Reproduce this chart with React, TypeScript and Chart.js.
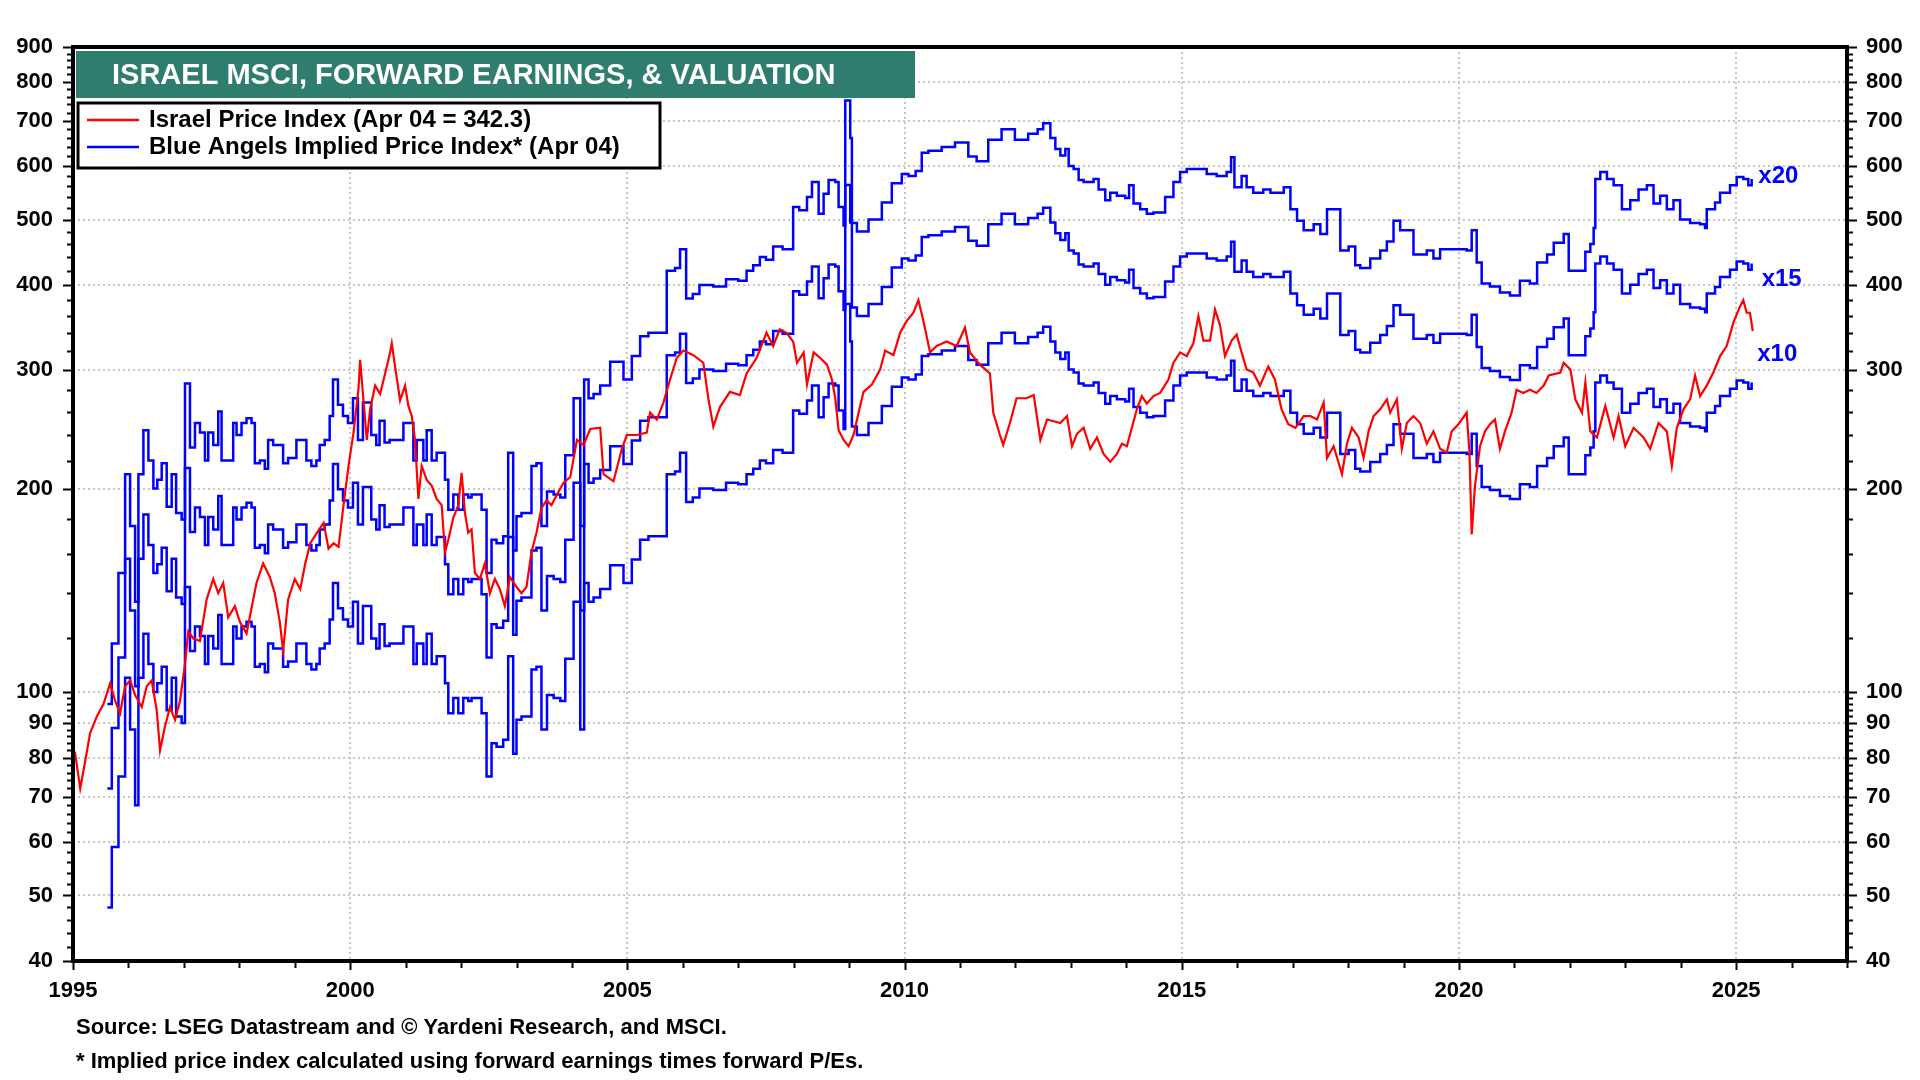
import React, { useEffect, useRef } from "react";
import { Chart, registerables } from "chart.js";

Chart.register(...registerables);

const FONT = '"Liberation Sans", Arial, Helvetica, sans-serif';

// Israel MSCI price index (decimal year, index level)
const priceYears = [
  1995.0, 1995.04, 1995.13, 1995.22, 1995.31, 1995.43, 1995.55, 1995.67, 1995.76, 1995.85, 1995.94,
  1996.03, 1996.12, 1996.24, 1996.33, 1996.42, 1996.51, 1996.57, 1996.66, 1996.75, 1996.84, 1996.93,
  1997.02, 1997.08, 1997.17, 1997.29, 1997.41, 1997.53, 1997.62, 1997.71, 1997.8, 1997.92,
  1998.01, 1998.13, 1998.22, 1998.31, 1998.43, 1998.55, 1998.64, 1998.73, 1998.79, 1998.88,
  1999.0, 1999.1, 1999.19, 1999.28, 1999.4, 1999.52, 1999.61, 1999.7, 1999.79, 1999.88, 1999.97,
  2000.06, 2000.15, 2000.18, 2000.24, 2000.3, 2000.36, 2000.45, 2000.54, 2000.63, 2000.72, 2000.75, 2000.81, 2000.9, 2000.99,
  2001.05, 2001.11, 2001.17, 2001.23, 2001.29, 2001.38, 2001.47, 2001.56, 2001.65, 2001.71, 2001.77, 2001.86, 2001.95,
  2002.01, 2002.07, 2002.13, 2002.19, 2002.25, 2002.34, 2002.43, 2002.52, 2002.61, 2002.7, 2002.79, 2002.88,
  2003.0, 2003.09, 2003.18, 2003.27, 2003.36, 2003.45, 2003.54, 2003.63, 2003.73, 2003.85, 2003.97,
  2004.09, 2004.21, 2004.33, 2004.51, 2004.57, 2004.75, 2004.9, 2004.99,
  2005.17, 2005.35, 2005.41, 2005.53, 2005.65, 2005.77, 2005.89, 2006.01,
  2006.19, 2006.37, 2006.46, 2006.55, 2006.67, 2006.85, 2007.03,
  2007.15, 2007.33, 2007.51, 2007.63, 2007.75, 2007.87, 2007.99,
  2008.06, 2008.18, 2008.24, 2008.36, 2008.48, 2008.6, 2008.69, 2008.75, 2008.81, 2008.9, 2008.99,
  2009.08, 2009.17, 2009.26, 2009.41, 2009.56, 2009.65, 2009.8, 2009.92,
  2010.04, 2010.16, 2010.25, 2010.34, 2010.46, 2010.58, 2010.76, 2010.94,
  2011.09, 2011.18, 2011.36, 2011.54, 2011.6, 2011.72, 2011.78, 2011.9,
  2012.02, 2012.2, 2012.33, 2012.45, 2012.57, 2012.81, 2012.93,
  2013.02, 2013.11, 2013.23, 2013.35, 2013.47, 2013.59, 2013.71, 2013.83, 2013.92,
  2014.01, 2014.1, 2014.19, 2014.28, 2014.37, 2014.49, 2014.61, 2014.76, 2014.85, 2014.97,
  2015.09, 2015.21, 2015.3, 2015.39, 2015.51, 2015.6, 2015.69, 2015.78, 2015.9, 2015.99,
  2016.08, 2016.17, 2016.29, 2016.41, 2016.56, 2016.68, 2016.8, 2016.92,
  2017.05, 2017.2, 2017.32, 2017.44, 2017.56, 2017.62, 2017.74, 2017.89, 2017.98,
  2018.07, 2018.19, 2018.28, 2018.37, 2018.46, 2018.58, 2018.7, 2018.76, 2018.88, 2018.97,
  2019.06, 2019.18, 2019.3, 2019.42, 2019.54, 2019.66, 2019.78, 2019.87, 2019.99,
  2020.14, 2020.19, 2020.23, 2020.29, 2020.38, 2020.47, 2020.56, 2020.65, 2020.74, 2020.83, 2020.95,
  2021.04, 2021.16, 2021.28, 2021.4, 2021.53, 2021.62, 2021.83, 2021.89,
  2022.01, 2022.1, 2022.22, 2022.28, 2022.37, 2022.49, 2022.64, 2022.79, 2022.88,
  2023.0, 2023.15, 2023.33, 2023.45, 2023.6, 2023.75, 2023.84, 2023.93,
  2024.05, 2024.17, 2024.26, 2024.35, 2024.47, 2024.59, 2024.71, 2024.83, 2024.95,
  2025.07, 2025.13, 2025.19, 2025.25, 2025.3,
];
const priceIndex = [
  80, 81, 72, 79, 87, 92, 96, 103, 97, 93, 102,
  104, 99, 95, 102, 104, 94, 82, 89, 95, 91, 97,
  110, 123, 120, 119, 137, 147, 140, 145, 129, 134,
  127, 122, 133, 145, 155, 148, 140, 127, 115, 137,
  147, 142, 155, 166, 172, 178, 163, 166, 164, 189, 216,
  242, 281, 310, 270, 236, 262, 284, 276, 296, 318, 328, 303, 270, 284,
  265, 256, 236, 193, 216, 206, 202, 193, 189, 161, 168, 181, 189,
  211, 184, 172, 174, 150, 147, 155, 140, 147, 142, 134, 148,
  143, 140, 143, 161, 172, 187, 192, 189, 196, 204, 208,
  236, 232, 245, 246, 210, 205, 229, 240,
  240, 242, 259, 253, 268, 290, 312, 320,
  315, 307, 272, 247, 264, 278, 275,
  296, 312, 340, 325, 344, 340, 330,
  307, 318, 285, 318, 312, 305, 290, 272, 244, 236, 231,
  240, 259, 278, 285, 300, 320, 315, 340,
  354, 364, 380, 354, 318, 325, 330, 325,
  346, 318, 305, 296, 259, 240, 232, 250,
  272, 272, 275, 236, 253, 250, 256,
  231, 241, 246, 229, 238, 225, 219, 225, 233,
  231, 246, 262, 274, 267, 274, 277, 290, 307, 318,
  314, 328, 360, 331, 331, 368, 349, 314, 331, 338,
  318, 300, 297, 284, 303, 290, 262, 249,
  246, 256, 256, 253, 268, 222, 231, 210, 233,
  246, 238, 222, 243, 256, 262, 271, 259, 271, 229,
  250, 256, 250, 233, 243, 229, 226, 243, 249,
  259, 226, 171, 202, 231, 243, 249, 253, 229, 243, 259,
  280, 277, 280, 277, 284, 294, 297, 307,
  300, 271, 259, 287, 243, 238, 265, 238, 256,
  231, 246, 238, 229, 250, 243, 216, 246,
  262, 271, 294, 274, 284, 297, 314, 325, 352,
  372, 380, 364, 364, 342,
];

// Forward earnings behind the implied price index (index points)
const earningsYears = [
  1995.62, 1995.7, 1995.82, 1995.94, 1996.03, 1996.12, 1996.18, 1996.27, 1996.36, 1996.45, 1996.52,
  1996.6, 1996.69, 1996.78, 1996.86, 1996.96, 1997.02, 1997.11, 1997.2, 1997.29, 1997.38, 1997.44,
  1997.53, 1997.62, 1997.68, 1997.89, 1997.95, 1998.04, 1998.13, 1998.22, 1998.28, 1998.37, 1998.46,
  1998.52, 1998.61, 1998.79, 1998.88, 1999.03, 1999.21, 1999.3, 1999.39, 1999.45, 1999.54, 1999.63,
  1999.69, 1999.78, 1999.87, 1999.96, 2000.05, 2000.14, 2000.23, 2000.38, 2000.47, 2000.53, 2000.62,
  2000.71, 2000.96, 2001.14, 2001.2, 2001.32, 2001.38, 2001.47, 2001.56, 2001.71, 2001.77, 2001.86,
  2001.95, 2002.04, 2002.13, 2002.19, 2002.37, 2002.46, 2002.55, 2002.64, 2002.76, 2002.85, 2002.94,
  2003.0, 2003.09, 2003.27, 2003.36, 2003.45, 2003.55, 2003.67, 2003.79, 2003.88,
  2004.03, 2004.15, 2004.22, 2004.3, 2004.39, 2004.51, 2004.69, 2004.93, 2005.08, 2005.23, 2005.38,
  2005.71, 2005.86, 2005.95, 2006.06, 2006.18, 2006.3, 2006.55, 2006.78, 2007.0, 2007.15, 2007.27,
  2007.39, 2007.5, 2007.63, 2007.8, 2007.99, 2008.1, 2008.24, 2008.33, 2008.45, 2008.54, 2008.63,
  2008.75, 2008.81, 2008.9, 2008.93, 2009.02, 2009.05, 2009.14, 2009.35, 2009.59, 2009.77, 2009.95,
  2010.07, 2010.2, 2010.31, 2010.43, 2010.67, 2010.91, 2011.15, 2011.3, 2011.51, 2011.75, 2011.99,
  2012.23, 2012.4, 2012.5, 2012.63, 2012.72, 2012.81, 2012.9, 2012.96, 2013.05, 2013.14, 2013.23,
  2013.41, 2013.5, 2013.62, 2013.71, 2013.83, 2013.98, 2014.05, 2014.13, 2014.25, 2014.37, 2014.49,
  2014.61, 2014.7, 2014.85, 2014.97, 2015.09, 2015.27, 2015.45, 2015.63, 2015.81, 2015.89, 2015.95,
  2016.08, 2016.17, 2016.29, 2016.47, 2016.6, 2016.72, 2016.84, 2016.96, 2017.08, 2017.2, 2017.38,
  2017.5, 2017.62, 2017.74, 2017.86, 2018.01, 2018.13, 2018.22, 2018.4, 2018.58, 2018.7, 2018.82,
  2018.94, 2019.18, 2019.42, 2019.54, 2019.66, 2019.84, 2020.14, 2020.23, 2020.32, 2020.41, 2020.56,
  2020.74, 2020.92, 2021.1, 2021.28, 2021.41, 2021.59, 2021.71, 2021.89, 2021.98, 2022.19, 2022.28,
  2022.37, 2022.43, 2022.46, 2022.55, 2022.67, 2022.79, 2022.94, 2023.09, 2023.24, 2023.39, 2023.51,
  2023.63, 2023.75, 2023.87, 2023.99, 2024.17, 2024.35, 2024.44, 2024.47, 2024.62, 2024.71, 2024.89,
  2025.01, 2025.13, 2025.22, 2025.28,
];
const forwardEarnings = [
  4.8, 5.9, 7.5, 10.5, 8.8, 6.8, 10.5, 12.2, 11.0, 10.0, 10.3,
  10.9, 9.4, 10.5, 9.2, 9.0, 14.3, 11.5, 12.5, 12.1, 11.0, 12.1,
  11.6, 13.0, 11.0, 12.5, 12.0, 12.5, 12.7, 12.5, 10.9, 11.0, 10.7,
  11.8, 11.6, 10.9, 11.1, 11.8, 11.0, 10.8, 11.0, 11.6, 11.8, 12.8,
  14.5, 13.3, 12.8, 12.5, 13.6, 11.8, 13.4, 12.0, 11.6, 12.6, 11.7,
  11.8, 12.5, 11.0, 11.8, 11.0, 12.2, 11.0, 11.3, 10.3, 9.3, 9.8,
  9.3, 9.8, 9.7, 9.8, 9.3, 7.5, 8.4, 8.3, 8.5, 11.3, 8.1,
  9.1, 9.2, 10.8, 10.9, 8.8, 9.9, 9.8, 9.7, 11.2,
  13.6, 8.8, 14.5, 13.6, 13.8, 14.2, 15.4, 14.5, 15.7, 16.8, 17.0,
  21.0, 21.2, 22.6, 19.1, 19.4, 20.0, 19.9, 20.4, 20.3, 21.0, 21.4,
  22.0, 21.8, 22.8, 22.6, 26.1, 25.8, 27.0, 28.4, 25.5, 27.3, 28.6,
  28.4, 26.1, 24.5, 37.5, 33.0, 24.7, 24.0, 25.0, 26.5, 28.3, 29.2,
  29.0, 29.5, 31.4, 31.6, 32.0, 32.5, 31.0, 30.5, 32.8, 34.0, 32.8,
  33.5, 34.0, 34.7, 33.0, 31.8, 31.1, 31.8, 30.0, 29.7, 28.6, 28.4,
  28.7, 27.7, 26.7, 27.4, 27.1, 26.9, 28.1, 26.4, 25.9, 25.5, 25.6,
  25.6, 27.0, 28.4, 29.4, 29.7, 29.7, 29.2, 29.0, 29.4, 30.9, 27.9,
  29.0, 27.9, 27.4, 27.7, 27.4, 27.4, 27.9, 25.9, 24.9, 24.1, 24.6,
  23.8, 25.9, 25.9, 22.5, 22.8, 21.4, 21.2, 21.9, 22.5, 23.2, 24.9,
  24.1, 22.2, 22.5, 21.9, 22.6, 22.6, 22.5, 24.1, 21.6, 20.1, 19.9,
  19.5, 19.3, 20.3, 20.1, 21.6, 22.2, 23.1, 23.8, 21.0, 21.0, 22.4,
  23.0, 24.3, 28.7, 29.4, 28.7, 28.1, 25.9, 26.7, 27.7, 28.1, 26.4,
  27.1, 25.9, 26.7, 25.0, 24.7, 24.6, 24.3, 25.9, 26.5, 27.4, 28.1,
  28.9, 28.7, 28.1, 28.7,
];
const peMultiples = [10, 15, 20];
const multipleLabels = ["x10", "x15", "x20"];

// axis ticks
const yTicks = [40, 50, 60, 70, 80, 90, 100, 200, 300, 400, 500, 600, 700, 800, 900];
const yMinorTicks = [
  42, 44, 46, 48, 52, 54, 56, 58, 62, 64, 66, 68, 72, 74, 76, 78, 82, 84, 86, 88, 92, 94, 96, 98,
  120, 140, 160, 180, 220, 240, 260, 280, 320, 340, 360, 380, 420, 440, 460, 480,
  520, 540, 560, 580, 620, 640, 660, 680, 720, 740, 760, 780, 820, 840, 860, 880,
];
const xTicks = [1995, 2000, 2005, 2010, 2015, 2020, 2025];

const titleText = "ISRAEL MSCI, FORWARD EARNINGS, & VALUATION";
const legendItems = [
  { text: "Israel Price Index (Apr 04 = 342.3)", color: "#ff0000" },
  { text: "Blue Angels Implied Price Index* (Apr 04)", color: "#0000ff" },
];
const footnotes = [
  "Source: LSEG Datastream and \u00a9 Yardeni Research, and MSCI.",
  "* Implied price index calculated using forward earnings times forward P/Es.",
];

// where the multiple labels sit (year, index level)
const multipleLabelSpots = [
  { x: 2025.38, y: 316 },
  { x: 2025.46, y: 408 },
  { x: 2025.4, y: 580 },
];

const decorPlugin = {
  id: "decor",
  beforeDatasetsDraw(chart: any) {
    const { ctx, chartArea: a, scales } = chart;
    ctx.save();
    ctx.strokeStyle = "#c6c6c6";
    ctx.lineWidth = 2;
    ctx.setLineDash([2, 3]);
    yTicks.forEach((v) => {
      const py = Math.round(scales.y.getPixelForValue(v));
      ctx.beginPath();
      ctx.moveTo(a.left, py);
      ctx.lineTo(a.right, py);
      ctx.stroke();
    });
    xTicks.forEach((v) => {
      if (v <= scales.x.min) return;
      const px = Math.round(scales.x.getPixelForValue(v));
      ctx.beginPath();
      ctx.moveTo(px, a.top);
      ctx.lineTo(px, a.bottom);
      ctx.stroke();
    });
    ctx.restore();
  },
  afterDraw(chart: any) {
    const { ctx, chartArea: a, scales } = chart;
    ctx.save();

    // frame
    ctx.strokeStyle = "#000";
    ctx.lineWidth = 4;
    ctx.strokeRect(a.left, a.top, a.right - a.left, a.bottom - a.top);

    // y ticks on both sides
    ctx.lineWidth = 2;
    const yTick = (v: number, len: number) => {
      const py = Math.round(scales.y.getPixelForValue(v)) + 0.5;
      ctx.beginPath();
      ctx.moveTo(a.left - len, py);
      ctx.lineTo(a.left, py);
      ctx.moveTo(a.right, py);
      ctx.lineTo(a.right + len, py);
      ctx.stroke();
    };
    yTicks.forEach((v) => yTick(v, 10));
    yMinorTicks.forEach((v) => yTick(v, 6));

    // x ticks every year
    for (let yr = Math.ceil(scales.x.min); yr <= scales.x.max; yr++) {
      const px = Math.round(scales.x.getPixelForValue(yr)) + 0.5;
      ctx.beginPath();
      ctx.moveTo(px, a.bottom);
      ctx.lineTo(px, a.bottom + (yr % 5 === 0 ? 9 : 7));
      ctx.stroke();
    }

    // title box
    ctx.fillStyle = "#2e7d6e";
    ctx.fillRect(a.left + 3, a.top + 4, 839, 47);
    ctx.fillStyle = "#ffffff";
    ctx.font = `bold 29px ${FONT}`;
    ctx.textBaseline = "middle";
    ctx.textAlign = "left";
    ctx.fillText(titleText, a.left + 39, a.top + 29);

    // legend box
    const lx = a.left + 5;
    const ly = a.top + 56;
    ctx.fillStyle = "#ffffff";
    ctx.fillRect(lx, ly, 582, 65);
    ctx.strokeStyle = "#000";
    ctx.lineWidth = 3;
    ctx.strokeRect(lx, ly, 582, 65);
    ctx.font = `bold 24px ${FONT}`;
    legendItems.forEach((item, i) => {
      const cy = ly + 17 + i * 27;
      ctx.strokeStyle = item.color;
      ctx.lineWidth = 2.5;
      ctx.beginPath();
      ctx.moveTo(lx + 9, cy);
      ctx.lineTo(lx + 61, cy);
      ctx.stroke();
      ctx.fillStyle = "#000";
      ctx.fillText(item.text, lx + 71, cy);
    });

    // multiple labels
    ctx.fillStyle = "#0000ff";
    ctx.font = `bold 24px ${FONT}`;
    multipleLabels.forEach((label, i) => {
      const spot = multipleLabelSpots[i];
      ctx.fillText(label, scales.x.getPixelForValue(spot.x), scales.y.getPixelForValue(spot.y));
    });

    // footnotes
    ctx.fillStyle = "#000";
    ctx.font = `bold 22px ${FONT}`;
    footnotes.forEach((t, i) => ctx.fillText(t, 76, 1028 + i * 34));

    ctx.restore();
  },
};

const setTicks = (values: number[]) => (scale: any) => {
  scale.ticks = values.map((v) => ({ value: v }));
};

const App: React.FC = () => {
  const canvasRef = useRef<HTMLCanvasElement>(null);
  const chartRef = useRef<Chart | null>(null);

  useEffect(() => {
    document.body.style.margin = "0";
    const ctx = canvasRef.current?.getContext("2d");
    if (!ctx) return;
    if (chartRef.current) chartRef.current.destroy();

    const blueSets = peMultiples.map((m) => ({
      label: `x${m}`,
      data: earningsYears.map((t, i) => ({ x: t, y: forwardEarnings[i] * m })),
      borderColor: "#0000ff",
      borderWidth: 2.5,
      pointRadius: 0,
      stepped: true,
      fill: false,
    }));

    const tickFont = { family: FONT, size: 22, weight: "bold" as const };

    chartRef.current = new Chart(ctx, {
      type: "line",
      data: {
        datasets: [
          {
            label: "Israel Price Index",
            data: priceYears.map((t, i) => ({ x: t, y: priceIndex[i] })),
            borderColor: "#ff0000",
            borderWidth: 2.2,
            pointRadius: 0,
            tension: 0,
            fill: false,
          },
          ...blueSets,
        ],
      },
      options: {
        responsive: false,
        animation: false,
        devicePixelRatio: 1,
        layout: { padding: { top: 47, left: 0, right: 0, bottom: 0 } },
        plugins: { legend: { display: false }, tooltip: { enabled: false } },
        scales: {
          x: {
            type: "linear",
            min: 1995,
            max: 2027,
            afterBuildTicks: setTicks(xTicks),
            afterFit: (s: any) => {
              s.height = 119;
            },
            ticks: {
              autoSkip: false,
              maxRotation: 0,
              padding: 17,
              color: "#000",
              font: tickFont,
              callback: (v: any) => String(v),
            },
            grid: { display: false, drawTicks: false },
            border: { display: false },
          },
          y: {
            type: "logarithmic",
            position: "left",
            min: 40,
            max: 900,
            afterBuildTicks: setTicks(yTicks),
            afterFit: (s: any) => {
              s.width = 73;
            },
            ticks: {
              autoSkip: false,
              padding: 20,
              color: "#000",
              font: tickFont,
              callback: (v: any) => String(v),
            },
            grid: { display: false, drawTicks: false },
            border: { display: false },
          },
          y2: {
            type: "logarithmic",
            position: "right",
            display: true,
            min: 40,
            max: 900,
            afterBuildTicks: setTicks(yTicks),
            afterFit: (s: any) => {
              s.width = 73;
            },
            ticks: {
              autoSkip: false,
              padding: 19,
              color: "#000",
              font: tickFont,
              callback: (v: any) => String(v),
            },
            grid: { display: false, drawTicks: false },
            border: { display: false },
          },
        },
      },
      plugins: [decorPlugin],
    });

    return () => {
      if (chartRef.current) {
        chartRef.current.destroy();
        chartRef.current = null;
      }
    };
  }, []);

  return (
    <div style={{ width: 1920, height: 1080, background: "#fff" }}>
      <canvas ref={canvasRef} width={1920} height={1080} style={{ display: "block" }} />
    </div>
  );
};

export default App;
